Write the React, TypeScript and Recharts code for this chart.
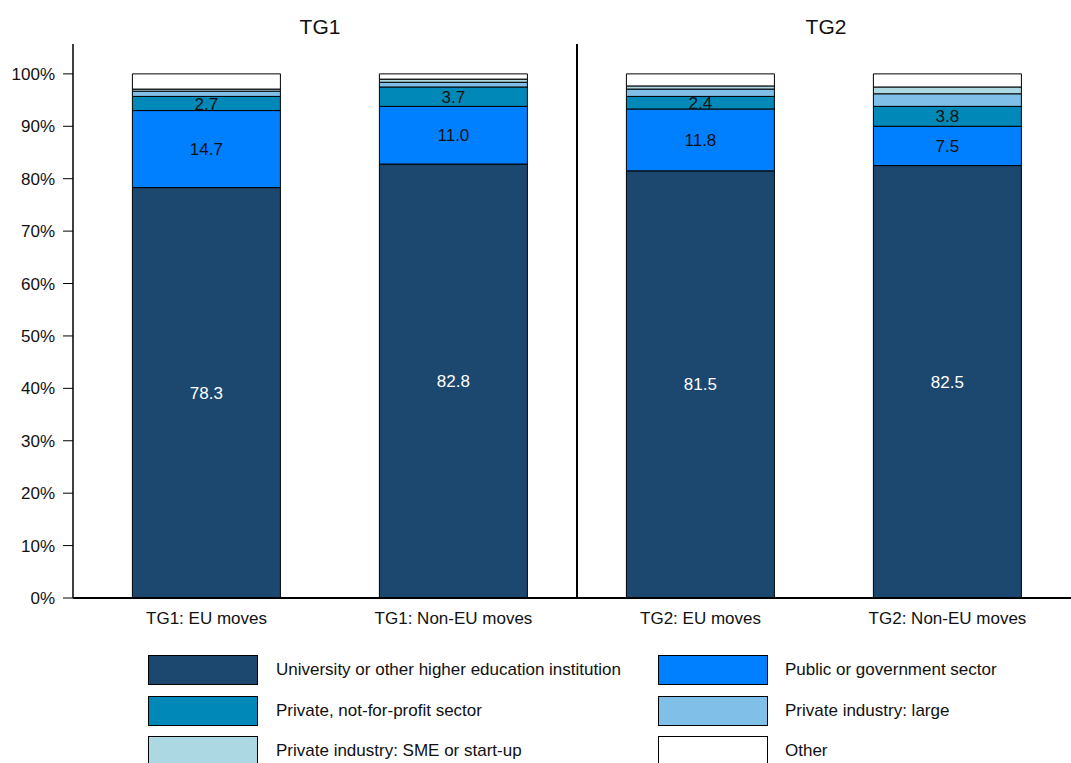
import React from "react";
import {
  BarChart,
  Bar,
  XAxis,
  YAxis,
  ReferenceLine,
  LabelList,
} from "recharts";

const categories = ["TG1: EU moves", "TG1: Non-EU moves", "TG2: EU moves", "TG2: Non-EU moves"];
const university = [78.3, 82.8, 81.5, 82.5];
const publicSector = [14.7, 11.0, 11.8, 7.5];
const notForProfit = [2.7, 3.7, 2.4, 3.8];
const industryLarge = [1.0, 0.9, 1.4, 2.4];
const industrySme = [0.4, 0.6, 0.6, 1.3];
const other = [2.9, 1.0, 2.3, 2.5];
const yTicks = [0, 10, 20, 30, 40, 50, 60, 70, 80, 90, 100];
const groupTitles = ["TG1", "TG2"];

const series = [
  { key: "univ", name: "University or other higher education institution", color: "#1c476e", label: "#ffffff" },
  { key: "pub", name: "Public or government sector", color: "#0080ff", label: "#111111" },
  { key: "nfp", name: "Private, not-for-profit sector", color: "#0089b8", label: "#111111" },
  { key: "large", name: "Private industry: large", color: "#80bfe8", label: null },
  { key: "sme", name: "Private industry: SME or start-up", color: "#acd8e4", label: null },
  { key: "other", name: "Other", color: "#ffffff", label: null },
];

const data = categories.map((c, i) => ({
  cat: c,
  univ: university[i],
  pub: publicSector[i],
  nfp: notForProfit[i],
  large: industryLarge[i],
  sme: industrySme[i],
  other: other[i],
}));

const font = "'Liberation Sans', Arial, sans-serif";

export default function App() {
  return (
    <div style={{ position: "absolute", left: 0, top: 0, width: 1071, height: 763, background: "#fff", fontFamily: font, overflow: "hidden" }}>
      {groupTitles.map((t, i) => (
        <div
          key={t}
          style={{ position: "absolute", top: 15, left: i === 0 ? 270 : 776, width: 100, textAlign: "center", fontSize: 21, color: "#111" }}
        >
          {t}
        </div>
      ))}
      <BarChart
        width={1071}
        height={640}
        data={data}
        margin={{ top: 44, right: 0, bottom: 0, left: 0 }}
        barCategoryGap="20%"
      >
        <XAxis
          dataKey="cat"
          height={42}
          padding={{ left: 10, right: 0 }}
          tickLine={false}
          axisLine={{ stroke: "#000", strokeWidth: 2 }}
          tick={{ fontSize: 17, fill: "#111", fontFamily: font }}
          tickMargin={8}
          interval={0}
        />
        <YAxis
          width={73}
          domain={[0, 105.7]}
          ticks={yTicks}
          allowDataOverflow
          tickFormatter={(v) => `${v}%`}
          tickSize={10}
          tickMargin={8}
          tickLine={{ stroke: "#000" }}
          axisLine={{ stroke: "#000", strokeWidth: 1.5 }}
          tick={{ fontSize: 17, fill: "#111", fontFamily: font }}
        />
        <ReferenceLine x={categories[2]} position="start" stroke="#000" strokeWidth={2} />
        {series.map((s) => (
          <Bar
            key={s.key}
            dataKey={s.key}
            name={s.name}
            stackId="a"
            fill={s.color}
            stroke="#000"
            strokeWidth={1}
            isAnimationActive={false}
          >
            {s.label && (
              <LabelList
                dataKey={s.key}
                position="center"
                fill={s.label}
                fontSize={17}
                fontFamily={font}
                formatter={(v: number) => v.toFixed(1)}
              />
            )}
          </Bar>
        ))}
      </BarChart>
      {series.map((s, i) => {
        const col = i % 2;
        const row = Math.floor(i / 2);
        return (
          <div key={s.key} style={{ position: "absolute", left: col === 0 ? 148 : 658, top: 655 + row * 40.5, display: "flex", alignItems: "center" }}>
            <div style={{ width: 108, height: 28, background: s.color, border: "1px solid #000" }} />
            <span style={{ marginLeft: col === 0 ? 18 : 17, fontSize: 17, color: "#111", whiteSpace: "nowrap" }}>{s.name}</span>
          </div>
        );
      })}
    </div>
  );
}
